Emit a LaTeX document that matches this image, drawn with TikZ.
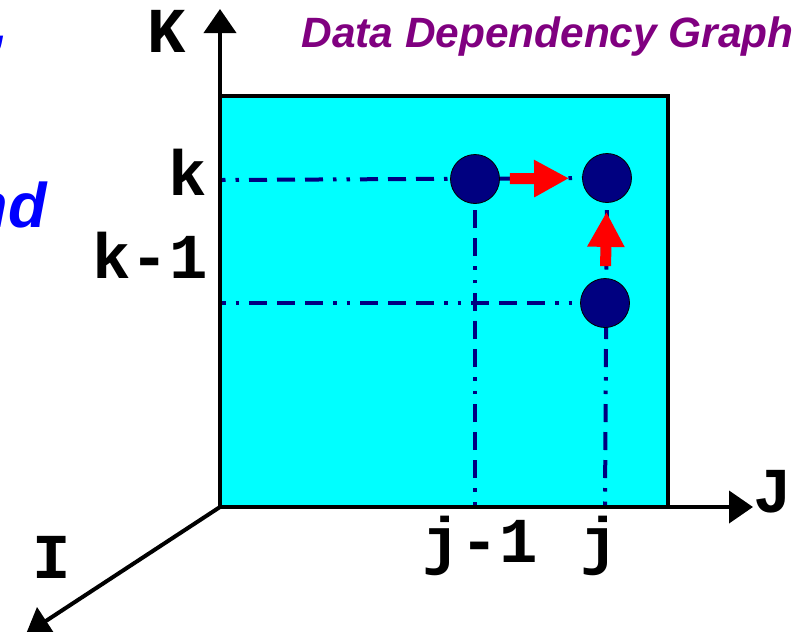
\documentclass[tikz,border=0pt]{standalone}
\usepackage{fontspec}
\setsansfont{Liberation Sans}
\setmonofont{Liberation Mono}
\usepackage{xcolor}
\usepackage{tikz}
\usetikzlibrary{arrows.meta}

\definecolor{planecyan}{RGB}{0,255,255}
\definecolor{dotnavy}{RGB}{0,0,128}
\definecolor{titlepurple}{RGB}{128,0,128}
\definecolor{noteblue}{RGB}{0,0,255}

\tikzset{
  axis/.style={line width=2pt, -{Triangle[length=12pt,width=16pt]}},
  guide/.style={dotnavy, line width=2pt,
    dash pattern=on 1.75pt off 5pt on 1.75pt off 5pt on 9pt off 5pt on 9pt off 5pt on 9pt off 5pt},
  point/.style={circle, fill=dotnavy, draw=black, line width=0.4pt,
    minimum size=24.5pt, inner sep=0pt},
  dep/.style={red, line width=5.5pt, -{Triangle[length=17.5pt,width=17.5pt]}},
  axislabel/.style={font=\fontsize{32}{32}\selectfont\ttfamily\bfseries, inner sep=0pt},
  notetext/.style={font=\fontsize{31.5}{34}\selectfont\sffamily\bfseries\itshape,
    text=noteblue, inner sep=0pt},
}

\begin{document}
\begin{tikzpicture}[x=0.5pt, y=-0.5pt]
  \useasboundingbox (0,0) rectangle (809,632);
  \clip (0,0) rectangle (809,632);

  % iteration plane
  \filldraw[fill=planecyan, draw=black, line width=2pt] (220,96) rectangle (668,507);

  % axes
  \coordinate (O) at (220,507);
  \coordinate (Ktip) at (220,9);
  \coordinate (Jtip) at (753,507);
  \coordinate (Itip) at (26,634);
  \draw[axis] (O) -- (Ktip);
  \draw[axis] (O) -- (Jtip);
  \draw[axis] (O) -- (Itip);

  % grid positions
  \coordinate (kk) at (222,180);
  \coordinate (kk1) at (222,303);
  \coordinate (jj1) at (475,505);
  \coordinate (jj) at (605,505);
  \coordinate (Pprev) at (475,179);
  \coordinate (Pcur) at (607,178);
  \coordinate (Pbelow) at (605,303);

  \draw[guide] (kk) -- (Pcur);
  \draw[guide] (kk1) -- (Pbelow);
  \draw[guide] (jj1) -- (Pprev);
  \draw[guide] (jj) -- (Pcur);

  % iterations
  \node[point] (prev) at (Pprev) {};
  \node[point] (cur) at (Pcur) {};
  \node[point] (below) at (Pbelow) {};

  % dependences
  \draw[dep, shorten <=5pt, shorten >=6.5pt] (prev) -- (cur);
  \draw[dep, shorten <=6pt, shorten >=4.5pt] (below) -- (cur);

  % labels
  \node[axislabel, anchor=base] (Klab) at (167,52) {K};
  \node[axislabel, anchor=base] (Jlab) at (773,512) {J};
  \node[axislabel, anchor=base] (Ilab) at (52,578) {I};
  \node[axislabel, anchor=base] (klab) at (188,195) {k};
  \node[axislabel, anchor=base] (k1lab) at (150,278) {k-1};
  \node[axislabel, anchor=base] (j1lab) at (480,562) {j-1};
  \node[axislabel, anchor=base] (jlab) at (600,562) {j};

  \node[font=\fontsize{21.2}{24}\selectfont\sffamily\bfseries\itshape, text=titlepurple,
        anchor=base west, inner sep=0pt] (title) at (301,47) {Data Dependency Graph};

  % cut-off text at the left edge
  \node[notetext, anchor=base east] (note1) at (9,45) {,};
  \node[notetext, anchor=base east] (note2) at (47,227) {and};
\end{tikzpicture}
\end{document}
